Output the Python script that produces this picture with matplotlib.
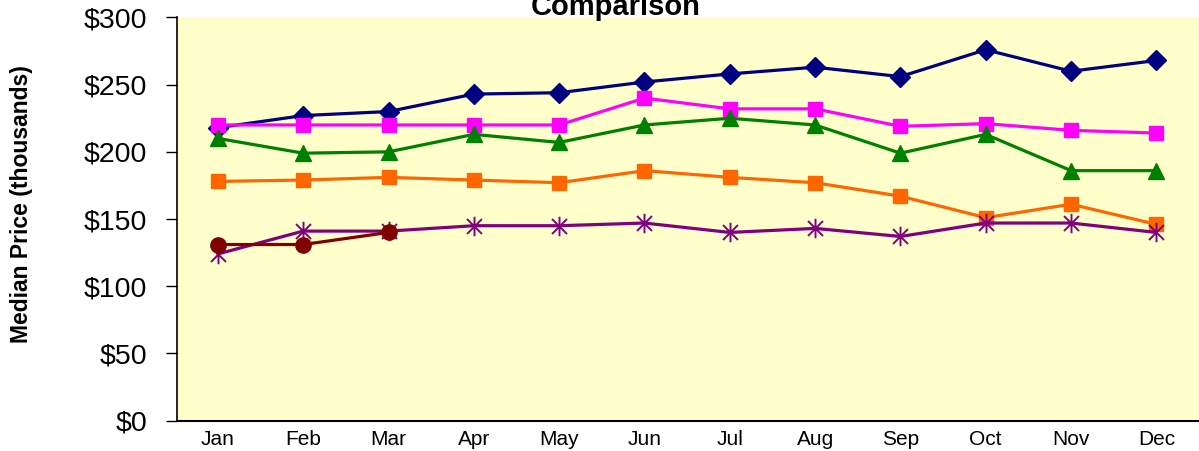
import matplotlib.pyplot as plt
from matplotlib.path import Path

months = ['Jan', 'Feb', 'Mar', 'Apr', 'May', 'Jun',
          'Jul', 'Aug', 'Sep', 'Oct', 'Nov', 'Dec']

# median prices, thousands of dollars
navy_vals = [218, 227, 230, 243, 244, 252, 258, 263, 256, 276, 260, 268]
magenta_vals = [220, 220, 220, 220, 220, 240, 232, 232, 219, 221, 216, 214]
green_vals = [210, 199, 200, 213, 207, 220, 225, 220, 199, 213, 186, 186]
orange_vals = [178, 179, 181, 179, 177, 186, 181, 177, 167, 151, 161, 146]
purple_vals = [124, 141, 141, 145, 145, 147, 140, 143, 137, 147, 147, 140]
darkred_vals = [131, 131, 140]

yticks = [0, 50, 100, 150, 200, 250, 300]

# excel style asterisk: an X with a vertical bar through it
star = Path([(-1, -1), (1, 1), (-1, 1), (1, -1), (0, -1.3), (0, 1.3)],
            [Path.MOVETO, Path.LINETO, Path.MOVETO, Path.LINETO, Path.MOVETO, Path.LINETO])

plt.rcParams['font.family'] = ['Liberation Sans', 'DejaVu Sans']

fig = plt.figure(figsize=(11.99, 4.51), dpi=100)
ax = fig.add_axes([0.1476, 0.0676, 0.8524, 0.8936])
ax.set_facecolor('#FFFFCC')

x = list(range(len(months)))
ax.plot(x, navy_vals, color='#000080', lw=2.3, marker='D', ms=10, mec='#000080')
ax.plot(x, magenta_vals, color='#FF00FF', lw=2.3, marker='s', ms=10.5, mec='#FF00FF')
ax.plot(x, green_vals, color='#008000', lw=2.3, marker='^', ms=11.5, mec='#008000')
ax.plot(x, orange_vals, color='#FF6600', lw=2.3, marker='s', ms=10.5, mec='#FF6600')
ax.plot(x, purple_vals, color='#800080', lw=2.3, marker=star, ms=14, mew=1.4, mec='#800080')
ax.plot(x[:len(darkred_vals)], darkred_vals, color='#800000', lw=2.3, marker='o', ms=11, mec='#800000')

ax.set_xlim(-0.48, 11.5)
ax.set_ylim(0, 300)
ax.set_xticks(x)
ax.set_xticklabels(months, fontsize=15)
ax.set_yticks(yticks)
ax.set_yticklabels(['$' + str(v) for v in yticks], fontsize=20.5)
ax.tick_params(axis='x', length=0, pad=7)
ax.tick_params(axis='y', length=8, width=1, pad=13.5, direction='out')

ax.spines['top'].set_visible(False)
ax.spines['right'].set_visible(False)
ax.spines['left'].set_linewidth(1.2)
ax.spines['bottom'].set_linewidth(1.5)

fig.text(0.5133, 1 - 15 / 451, 'Comparison', fontsize=21, fontweight='bold',
         ha='center', va='baseline')
fig.text(22 / 1199, 1 - 204 / 451, 'Median Price (thousands)', fontsize=16.5,
         fontweight='bold', rotation=90, ha='center', va='center')

fig.savefig('out.png', dpi=100)
